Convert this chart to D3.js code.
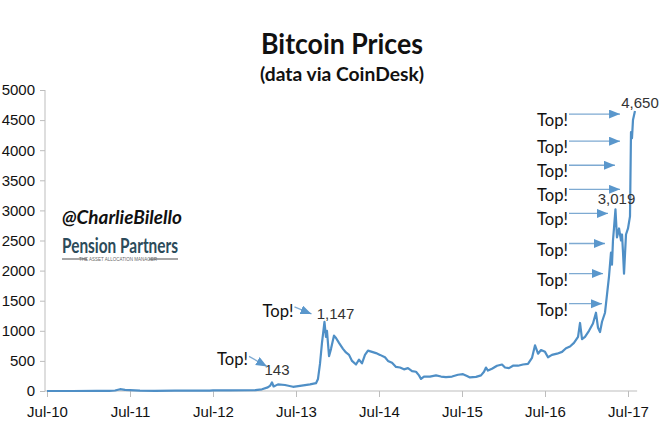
<!DOCTYPE html>
<html>
<head>
<meta charset="utf-8">
<script src="https://cdn.jsdelivr.net/npm/d3@7/dist/d3.min.js"></script>
<style>
body { margin: 0; background: #fff; }
svg text { font-family: "Liberation Sans", Arial, sans-serif; }
</style>
</head>
<body>
<svg id="chart" width="665" height="445"></svg>
<script>
var years = [
  2010.50, 2010.80, 2011.10, 2011.25, 2011.32, 2011.38, 2011.44, 2011.50, 2011.62, 2011.80,
  2012.04, 2012.30, 2012.46, 2012.50, 2012.70, 2013.01, 2013.09, 2013.16, 2013.19, 2013.211,
  2013.23, 2013.247, 2013.283, 2013.367, 2013.464, 2013.548, 2013.669, 2013.741, 2013.765, 2013.789,
  2013.813, 2013.843, 2013.861, 2013.873, 2013.898, 2013.922, 2013.958, 2013.982, 2014.018, 2014.066,
  2014.102, 2014.139, 2014.175, 2014.223, 2014.259, 2014.295, 2014.331, 2014.367, 2014.416, 2014.464,
  2014.512, 2014.572, 2014.608, 2014.657, 2014.705, 2014.753, 2014.801, 2014.849, 2014.898, 2014.946,
  2014.982, 2015.006, 2015.042, 2015.114, 2015.187, 2015.247, 2015.307, 2015.380, 2015.452, 2015.512,
  2015.560, 2015.596, 2015.669, 2015.729, 2015.765, 2015.789, 2015.813, 2015.861, 2015.922, 2015.982,
  2016.018, 2016.066, 2016.114, 2016.175, 2016.235, 2016.295, 2016.343, 2016.380, 2016.416, 2016.452,
  2016.500, 2016.536, 2016.584, 2016.645, 2016.705, 2016.753, 2016.801, 2016.849, 2016.898, 2016.922,
  2016.946, 2016.982, 2017.030, 2017.078, 2017.114, 2017.139, 2017.163, 2017.187, 2017.223, 2017.247,
  2017.271, 2017.295, 2017.307, 2017.319, 2017.331, 2017.349, 2017.367, 2017.392, 2017.416, 2017.428,
  2017.440, 2017.452, 2017.476, 2017.500, 2017.524, 2017.536, 2017.548, 2017.560, 2017.584
];
var prices = [
  0.1, 0.2, 0.8, 1, 8, 30, 18, 15, 6, 3,
  5, 5, 6, 11, 12, 15, 28, 60, 90, 143,
  75, 85, 110, 100, 70, 85, 110, 130, 200, 450,
  800, 1147, 900, 1000, 580, 700, 920, 880, 800, 700,
  640, 600, 500, 440, 520, 460, 600, 670, 650, 630,
  600, 560, 500, 470, 400, 390, 360, 380, 330, 320,
  260, 200, 240, 240, 260, 240, 230, 240, 270, 280,
  250, 225, 235, 260, 320, 390, 340, 370, 420, 440,
  390, 380, 420, 420, 440, 450, 550, 760, 620, 680,
  650, 560, 600, 620, 650, 710, 740, 800, 900, 1130,
  860, 900, 1000, 1120, 1300, 1050, 980, 1150, 1300, 1600,
  1900, 2300, 2100, 2500, 2700, 3019, 2550, 2700, 2500, 2600,
  2300, 1950, 2600, 2700, 2900, 4300, 4200, 4500, 4650
];

var tickYears = [2010.5, 2011.5, 2012.5, 2013.5, 2014.5, 2015.5, 2016.5, 2017.5];
var tickLabels = ["Jul-10", "Jul-11", "Jul-12", "Jul-13", "Jul-14", "Jul-15", "Jul-16", "Jul-17"];
var yTicks = [0, 500, 1000, 1500, 2000, 2500, 3000, 3500, 4000, 4500, 5000];

// labelled peaks
var peakYears = [2013.211, 2013.843, 2017.349, 2017.584];
var peakPrices = [143, 1147, 3019, 4650];
var peakLabels = ["143", "1,147", "3,019", "4,650"];

// the column of "Top!" arrows on the right: price level and year each arrow points at
var topPrices = [4600, 4150, 3750, 3350, 2950, 2450, 1950, 1450];
var topTipYears = [2017.404, 2017.404, 2017.343, 2017.404, 2017.259, 2017.223, 2017.199, 2017.187];

var svg = d3.select("#chart");
var blue = "#4f8fc6";

var x = d3.scaleLinear().domain([2010.5, 2017.5]).range([47, 628]);
var y = d3.scaleLinear().domain([0, 5000]).range([391, 90]);

svg.append("rect").attr("width", 665).attr("height", 445).attr("fill", "#fff");

// titles
svg.append("text").attr("x", 342).attr("y", 54).attr("text-anchor", "middle")
  .style("font-family", "Lato, sans-serif").style("font-weight", "bold").style("font-size", "29px")
  .attr("textLength", 162).attr("lengthAdjust", "spacingAndGlyphs")
  .attr("fill", "#111").text("Bitcoin Prices");
svg.append("text").attr("x", 342).attr("y", 81).attr("text-anchor", "middle")
  .style("font-family", "Lato, sans-serif").style("font-weight", "bold").style("font-size", "19.5px")
  .attr("textLength", 164).attr("lengthAdjust", "spacingAndGlyphs")
  .attr("fill", "#111").text("(data via CoinDesk)");

// axes
var yAxis = d3.axisLeft(y).tickValues(yTicks).tickSize(5).tickPadding(5).tickFormat(d3.format("d"));
var gy = svg.append("g").attr("transform", "translate(45,0)").call(yAxis);
var xAxis = d3.axisBottom(x).tickValues(tickYears).tickSize(6).tickPadding(9)
  .tickFormat(function (d, i) { return tickLabels[i]; });
var gx = svg.append("g").attr("transform", "translate(0,391)").call(xAxis);

[gx, gy].forEach(function (g) {
  g.select(".domain").remove();
  g.selectAll(".tick line").attr("stroke", "#bdbdbd");
  g.selectAll(".tick text").attr("fill", "#111").style("font-size", "15px")
    .style("font-family", "'Liberation Sans', Arial, sans-serif");
});
svg.append("line").attr("x1", 45).attr("x2", 45).attr("y1", y(5000)).attr("y2", y(0))
  .attr("stroke", "#bdbdbd");
svg.append("line").attr("x1", 45).attr("x2", x(2017.61)).attr("y1", y(0)).attr("y2", y(0))
  .attr("stroke", "#bdbdbd");

// price line
var points = years.map(function (t, i) { return [t, prices[i]]; });
var line = d3.line().x(function (d) { return x(d[0]); }).y(function (d) { return y(d[1]); });
svg.append("path").attr("d", line(points)).attr("fill", "none")
  .attr("stroke", blue).attr("stroke-width", 2.2).attr("stroke-linejoin", "round");

// arrow head
svg.append("defs").append("marker").attr("id", "head")
  .attr("markerUnits", "userSpaceOnUse").attr("markerWidth", 12).attr("markerHeight", 10)
  .attr("refX", 11).attr("refY", 4.5).attr("orient", "auto")
  .append("path").attr("d", "M0,0 L11,4.5 L0,9 z").attr("fill", "#5a97cc");

function topLabel(tx, ty, x1, y1, x2, y2) {
  svg.append("text").attr("x", tx).attr("y", ty)
    .style("font-family", "Lato, sans-serif").style("font-size", "17.5px")
    .attr("textLength", 31).attr("lengthAdjust", "spacingAndGlyphs")
    .attr("fill", "#111").text("Top!");
  svg.append("line").attr("x1", x1).attr("y1", y1).attr("x2", x2).attr("y2", y2)
    .attr("stroke", "#7eaad2").attr("stroke-width", 1.3).attr("marker-end", "url(#head)");
}

// peak labels
var numLabel = svg.append("g").style("font-size", "15px").attr("fill", "#333");
var offs = [[5, -7], [11, -3], [1, -5], [5, -3]];
peakYears.forEach(function (t, i) {
  numLabel.append("text").attr("x", x(t) + offs[i][0]).attr("y", y(peakPrices[i]) + offs[i][1])
    .attr("text-anchor", "middle").text(peakLabels[i]);
});

// two "Top!" calls on the left
var p0 = [x(peakYears[0]), y(peakPrices[0])];
topLabel(p0[0] - 55, p0[1] - 17, p0[0] - 23, p0[1] - 26, p0[0] - 5, p0[1] - 16);
var p1 = [x(peakYears[1]), y(peakPrices[1])];
topLabel(p1[0] - 62, p1[1] - 5, p1[0] - 30, p1[1] - 15, p1[0] - 13, p1[1] - 8);

// column of "Top!" calls on the right
topPrices.forEach(function (v, i) {
  var ty = y(v);
  topLabel(537, ty + 12, 569, ty, x(topTipYears[i]), ty);
});

// watermark
svg.append("text").attr("x", 62).attr("y", 224)
  .style("font-family", "Lato, sans-serif").style("font-style", "italic").style("font-weight", "bold")
  .style("font-size", "18px").attr("textLength", 120).attr("lengthAdjust", "spacingAndGlyphs")
  .attr("fill", "#111").text("@CharlieBilello");
svg.append("text").attr("x", 62).attr("y", 253)
  .style("font-family", "Lato, sans-serif").style("font-weight", "bold").style("font-size", "21px")
  .attr("textLength", 116).attr("lengthAdjust", "spacingAndGlyphs")
  .attr("fill", "#2c4b5a").text("Pension Partners");
svg.append("line").attr("x1", 62).attr("x2", 87).attr("y1", 259).attr("y2", 259).attr("stroke", "#888").attr("stroke-width", 1.5);
svg.append("line").attr("x1", 149).attr("x2", 178).attr("y1", 259).attr("y2", 259).attr("stroke", "#888").attr("stroke-width", 1.5);
svg.append("text").attr("x", 118).attr("y", 261).attr("text-anchor", "middle")
  .style("font-size", "4.5px").attr("fill", "#666").text("THE ASSET ALLOCATION MANAGER");
</script>
</body>
</html>
